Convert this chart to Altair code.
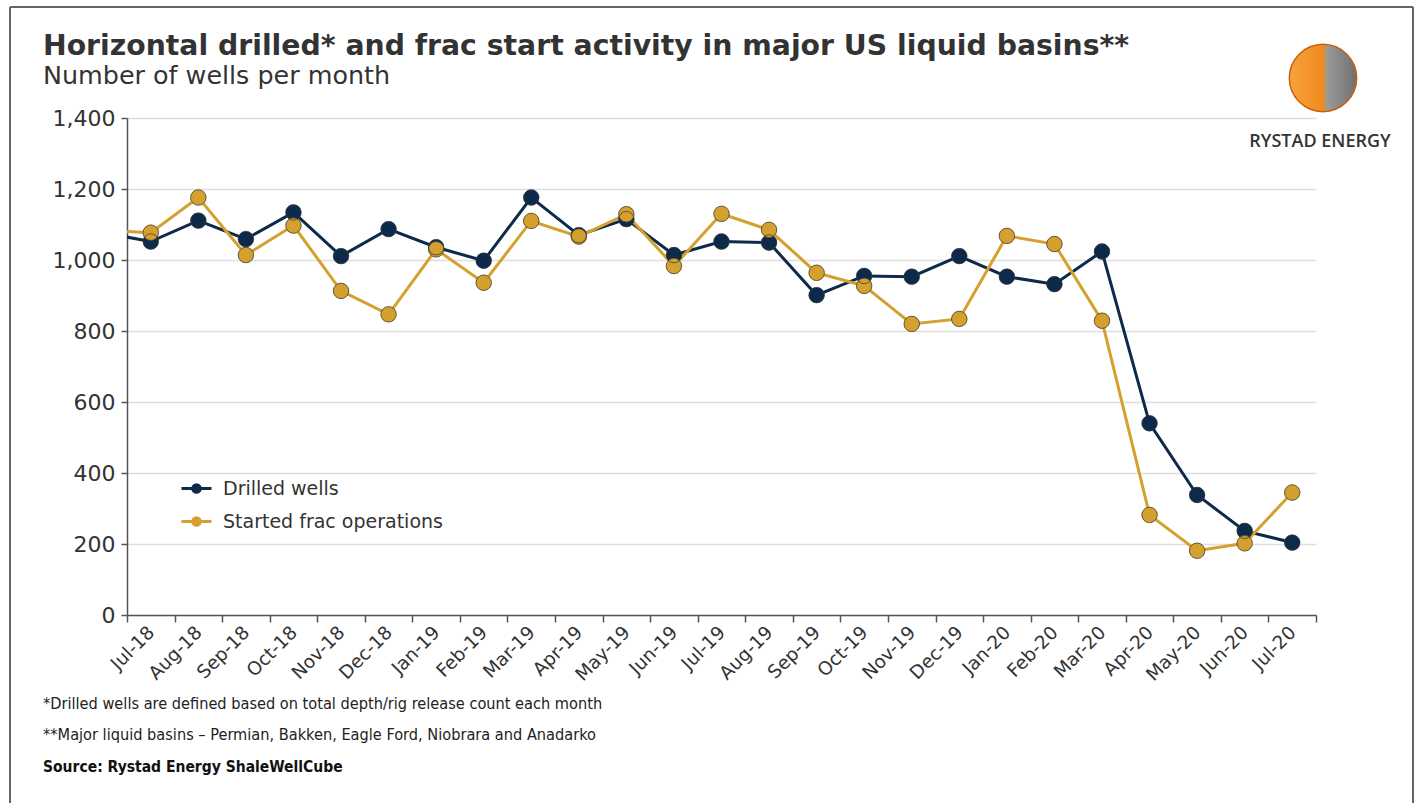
import altair as alt
import pandas as pd

# ---------------- data ----------------
months = ["Jul-18", "Aug-18", "Sep-18", "Oct-18", "Nov-18", "Dec-18",
          "Jan-19", "Feb-19", "Mar-19", "Apr-19", "May-19", "Jun-19",
          "Jul-19", "Aug-19", "Sep-19", "Oct-19", "Nov-19", "Dec-19",
          "Jan-20", "Feb-20", "Mar-20", "Apr-20", "May-20", "Jun-20", "Jul-20"]
lead_month = "Jun-18"  # partly visible at the left edge (clipped)

drilled = [1077, 1052, 1111, 1059, 1134, 1011, 1087, 1036, 998, 1176, 1070, 1115, 1014,
           1052, 1049, 901, 955, 953, 1011, 953, 932, 1024, 540, 338, 237, 204]
frac = [1083, 1077, 1176, 1014, 1097, 913, 847, 1030, 936, 1110, 1066, 1129, 983,
        1130, 1085, 964, 927, 820, 834, 1068, 1045, 829, 282, 181, 202, 345]

series_names = ["Drilled wells", "Started frac operations"]
series_colors = ["#0e2a4b", "#d4a02e"]

y_ticks = [0, 200, 400, 600, 800, 1000, 1200, 1400]

title_text = "Horizontal drilled* and frac start activity in major US liquid basins**"
subtitle_text = "Number of wells per month"
notes = ["*Drilled wells are defined based on total depth/rig release count each month",
         "**Major liquid basins \u2013 Permian, Bakken, Eagle Ford, Niobrara and Anadarko"]
source_text = "Source: Rystad Energy ShaleWellCube"
logo_text = "RYSTAD ENERGY"

# ---------------- table ----------------
all_months = [lead_month] + months
rows = []
for k, m in enumerate(all_months):
    rows.append({"i": k - 1, "month": m, "series": series_names[0], "value": drilled[k]})
    rows.append({"i": k - 1, "month": m, "series": series_names[1], "value": frac[k]})
df = pd.DataFrame(rows)

W, H = 1189, 497
n = len(months)
band = W / n
FONT = "DejaVu Sans"
TXT = "#333333"
AX = "#555555"

tick_vals = [k - 0.5 for k in range(n + 1)]
label_expr = "[" + ",".join("'" + m + "'" for m in months) + ",''][round(datum.value + 0.5)]"

x_enc = alt.X("i:Q",
              scale=alt.Scale(domain=[-0.5, n - 0.5], nice=False, zero=False),
              axis=alt.Axis(values=tick_vals, labelExpr=label_expr, labelAngle=-45,
                            labelAlign="right", labelBaseline="middle",
                            labelOffset=band / 2, labelPadding=7,
                            labelFont=FONT, labelFontSize=18.5, labelColor=TXT,
                            labelOverlap=False, labelFlush=False, labelBound=False,
                            tickSize=7, tickColor=AX, tickWidth=1.5,
                            domainColor=AX, domainWidth=1.5, grid=False, title=None))
y_enc = alt.Y("value:Q",
              scale=alt.Scale(domain=[0, 1400], nice=False),
              axis=alt.Axis(values=y_ticks, format=",.0f", labelFont=FONT, labelFontSize=22,
                            labelColor=TXT, labelPadding=6, tickSize=6, tickColor=AX,
                            tickWidth=1.5, domainColor=AX, domainWidth=1.5,
                            gridColor="#dedede", gridWidth=1.5, title=None))

sym_path = "M-1,0L1,0M-0.25,0A0.25,0.25,0,1,0,0.25,0A0.25,0.25,0,1,0,-0.25,0Z"
leg = alt.Legend(title=None, orient="none", legendX=53, legendY=354,
                 symbolType=sym_path, symbolSize=900, symbolStrokeWidth=3,
                 labelFont=FONT, labelFontSize=19, labelColor=TXT, labelOffset=10,
                 labelLimit=600, rowPadding=6, padding=0)
cscale = alt.Scale(domain=series_names, range=series_colors)

base = alt.Chart(df)

lines = base.mark_line(strokeWidth=3, clip=True).encode(
    x=x_enc, y=y_enc,
    color=alt.Color("series:N", scale=cscale, legend=leg),
)

points = base.transform_filter("datum.i >= 0").mark_point(
    filled=True, size=165, strokeWidth=3, opacity=1, shape="circle"
).encode(
    x=x_enc, y=y_enc,
    fill=alt.Fill("series:N", scale=cscale, legend=leg),
    stroke=alt.Stroke("series:N", scale=cscale, legend=leg),
)

outline = base.transform_filter("datum.i >= 0").mark_point(
    filled=False, size=240, strokeWidth=1, opacity=0.75, color="#3a3a3a", shape="circle"
).encode(x=x_enc, y=y_enc)

one = alt.Chart(pd.DataFrame({"k": [0]}))

frame_col = "#666666"
frame_left = one.mark_rule(color=frame_col, strokeWidth=2).encode(
    x=alt.value(-117), y=alt.value(-111), y2=alt.value(685))
frame_top = one.mark_rule(color=frame_col, strokeWidth=2).encode(
    x=alt.value(-117), x2=alt.value(1286), y=alt.value(-111))
frame_right = one.mark_rule(color=frame_col, strokeWidth=2).encode(
    x=alt.value(1286), y=alt.value(-111), y2=alt.value(685))

title = one.mark_text(align="left", baseline="alphabetic", font=FONT, fontSize=28.3,
                      fontWeight="bold", color=TXT, text=title_text).encode(
    x=alt.value(-84), y=alt.value(-63))
subtitle = one.mark_text(align="left", baseline="alphabetic", font=FONT, fontSize=25.4,
                         color=TXT, text=subtitle_text).encode(
    x=alt.value(-84), y=alt.value(-34))

note1 = one.mark_text(align="left", baseline="alphabetic", font="DejaVu Sans Condensed",
                      fontSize=16.2, color="#222", text=notes[0]).encode(
    x=alt.value(-84), y=alt.value(591))
note2 = one.mark_text(align="left", baseline="alphabetic", font="DejaVu Sans Condensed",
                      fontSize=16.2, color="#222", text=notes[1]).encode(
    x=alt.value(-84), y=alt.value(622))
note3 = one.mark_text(align="left", baseline="alphabetic", font="DejaVu Sans Condensed",
                      fontSize=15.5, fontWeight="bold", color="#111", text=source_text).encode(
    x=alt.value(-84), y=alt.value(654))

globe = one.mark_point(
    filled=True, size=4536, opacity=1, shape="circle",
    fill={"gradient": "linear", "x1": 0, "y1": 0, "x2": 1, "y2": 0,
          "stops": [{"offset": 0, "color": "#f7a33c"},
                    {"offset": 0.5, "color": "#f08a1c"},
                    {"offset": 0.56, "color": "#9a9a9a"},
                    {"offset": 1, "color": "#6f6f6f"}]},
    stroke="#c85f10", strokeWidth=1.5,
).encode(x=alt.value(1196), y=alt.value(-40))
logo = one.mark_text(align="center", baseline="alphabetic", font="Open Sans", fontSize=18,
                     fontWeight=600, color=TXT, text=logo_text).encode(
    x=alt.value(1193), y=alt.value(29))

chart = alt.layer(
    lines, points, outline,
    frame_left, frame_top, frame_right,
    title, subtitle, note1, note2, note3, globe, logo,
).properties(
    width=W, height=H,
    padding={"left": 9, "top": 6, "right": 0, "bottom": 0},
    background="white",
).configure_view(strokeWidth=0)

chart.save("out.html", embed_options={"renderer": "svg", "actions": False})
